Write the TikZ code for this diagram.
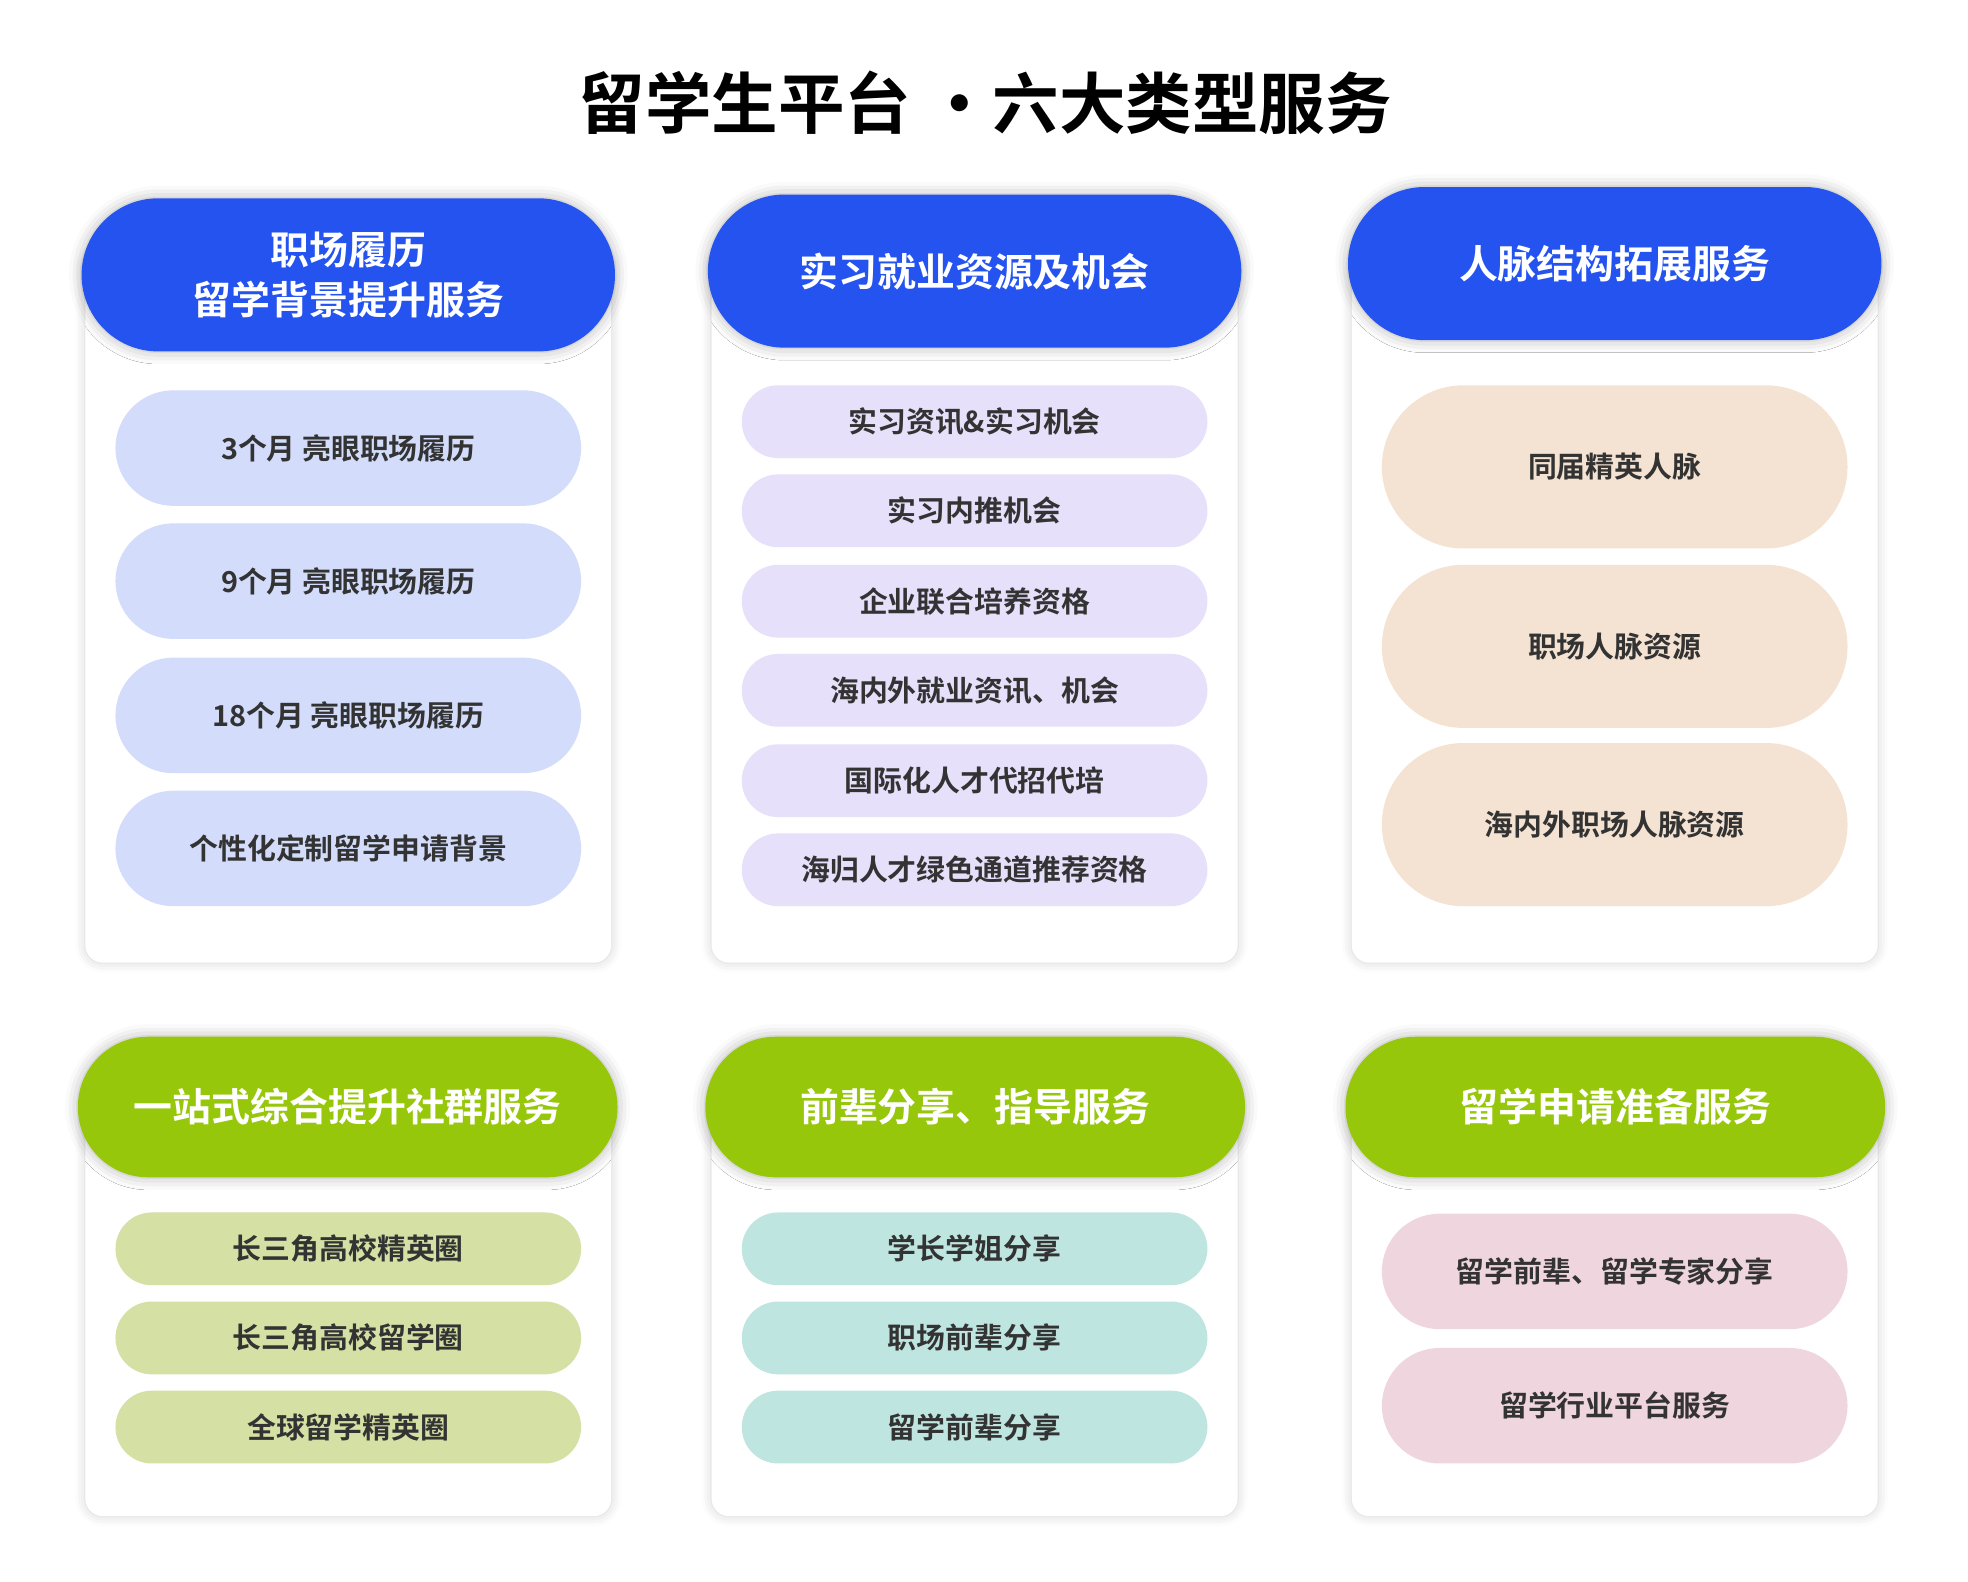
\documentclass[tikz,border=0pt]{standalone}
\usepackage{fontspec}
\newfontfamily\cjk{Noto Sans CJK SC}[BoldFont={Noto Sans CJK SC Bold}]
\usetikzlibrary{shadows.blur}
\definecolor{hblue}{HTML}{2453F0}
\definecolor{hgreen}{HTML}{97C70B}
\definecolor{pblue}{HTML}{D3DDFB}
\definecolor{ppur}{HTML}{E6E0FA}
\definecolor{ppeach}{HTML}{F4E3D2}
\definecolor{pgreen}{HTML}{D5E0A4}
\definecolor{pteal}{HTML}{BFE5E0}
\definecolor{ppink}{HTML}{EFD5DD}
\definecolor{tx}{HTML}{333333}
\tikzset{
 card/.style={draw=none,fill=white,rounded corners=14pt,blur shadow={shadow xshift=0pt,shadow yshift=0pt,shadow blur radius=8pt,shadow opacity=18}},
 head/.style={fill=#1,text=white,font=\cjk\bfseries\fontsize{31}{40}\selectfont,align=center,minimum width=425pt,inner sep=0pt,blur shadow={shadow xshift=0pt,shadow yshift=0pt,shadow blur radius=10pt,shadow opacity=30}},
 item/.style={fill=#1,text=tx,font=\cjk\bfseries\fontsize{23}{28}\selectfont,minimum width=371pt,inner sep=0pt},
}
\begin{document}
\begin{tikzpicture}[x=1pt,y=-1pt]
\useasboundingbox (0,0) rectangle (1568,1260);
\node[font=\cjk\bfseries\fontsize{53}{60}\selectfont] (title) at (785,82) {留学生平台 ·六大类型服务};
% cards
\foreach \x in {68,567,1077}{
 \fill[card] (\x,200) rectangle (\x+419,767);
 \fill[card] (\x,880) rectangle (\x+419,1208);
}
% headers
\node[head=hblue,minimum height=122pt,rounded corners=61pt] (h1) at (277.5,219) {职场履历\\留学背景提升服务};
\node[head=hblue,minimum height=122pt,rounded corners=61pt] (h2) at (776.5,216) {实习就业资源及机会};
\node[head=hblue,minimum height=122pt,rounded corners=61pt] (h3) at (1286.5,210) {人脉结构拓展服务};
\node[head=hgreen,minimum width=430pt,minimum height=112pt,rounded corners=56pt] (h4) at (277,882) {一站式综合提升社群服务};
\node[head=hgreen,minimum width=430pt,minimum height=112pt,rounded corners=56pt] (h5) at (777,882) {前辈分享、指导服务};
\node[head=hgreen,minimum width=430pt,minimum height=112pt,rounded corners=56pt] (h6) at (1287,882) {留学申请准备服务};
% col1
\foreach \y/\t [count=\i] in {357/3个月 亮眼职场履历,463/9个月 亮眼职场履历,570/18个月 亮眼职场履历,676/个性化定制留学申请背景}
 \node[item=pblue,minimum height=92pt,rounded corners=46pt] (a\i) at (277.5,\y) {\t};
% col2
\foreach \y/\t [count=\i] in {336/实习资讯\&实习机会,407/实习内推机会,479/企业联合培养资格,550/海内外就业资讯、机会,622/国际化人才代招代培,693/海归人才绿色通道推荐资格}
 \node[item=ppur,minimum height=58pt,rounded corners=29pt] (b\i) at (776.5,\y) {\t};
% col3
\foreach \y/\t [count=\i] in {372/同届精英人脉,515/职场人脉资源,657/海内外职场人脉资源}
 \node[item=ppeach,minimum height=130pt,rounded corners=65pt] (c\i) at (1286.5,\y) {\t};
% bottom
\foreach \y/\t [count=\i] in {995/长三角高校精英圈,1066/长三角高校留学圈,1137/全球留学精英圈}
 \node[item=pgreen,minimum height=58pt,rounded corners=29pt] (d\i) at (277.5,\y) {\t};
\foreach \y/\t [count=\i] in {995/学长学姐分享,1066/职场前辈分享,1137/留学前辈分享}
 \node[item=pteal,minimum height=58pt,rounded corners=29pt] (e\i) at (776.5,\y) {\t};
\foreach \y/\t [count=\i] in {1013/留学前辈、留学专家分享,1120/留学行业平台服务}
 \node[item=ppink,minimum height=92pt,rounded corners=46pt] (f\i) at (1286.5,\y) {\t};
\end{tikzpicture}
\end{document}
